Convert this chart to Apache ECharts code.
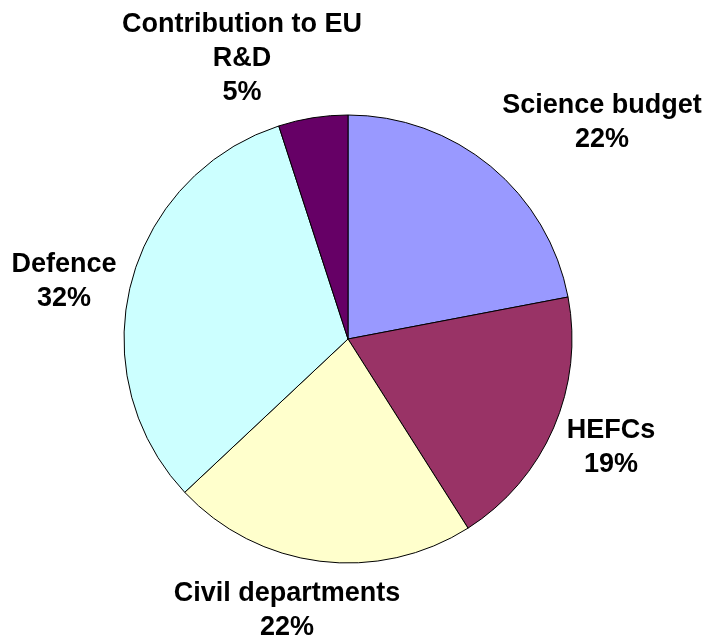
<!DOCTYPE html>
<html>
<head>
<meta charset="utf-8">
<script src="https://cdn.jsdelivr.net/npm/echarts@6/dist/echarts.min.js"></script>
<style>
html,body{margin:0;padding:0;background:#fff;}
#chart{width:706px;height:641px;}
</style>
</head>
<body>
<div id="chart"></div>
<script>
var categories = ["Science budget", "HEFCs", "Civil departments", "Defence", "Contribution to EU\nR&D"];
var values = [22, 19, 22, 32, 5];
var colors = ["#9999FF", "#993366", "#FFFFCC", "#CCFFFF", "#660066"];
// label block centres (x, y) in pixels
var labelPos = [[602, 123], [611, 448], [287, 611], [64, 282], [242, 59]];

var chart = echarts.init(document.getElementById('chart'));
var data = categories.map(function (c, i) {
  return { name: c, value: values[i], itemStyle: { color: colors[i] } };
});
chart.setOption({
  animation: false,
  backgroundColor: '#ffffff',
  series: [{
    type: 'pie',
    center: [348, 339],
    radius: 224,
    startAngle: 90,
    clockwise: true,
    data: data,
    itemStyle: { borderColor: '#000000', borderWidth: 1 },
    label: {
      show: true,
      position: 'outside',
      alignTo: 'none',
      overflow: 'none',
      width: 400,
      formatter: '{b}\n{d}%',
      color: '#000000',
      fontFamily: 'Liberation Sans, Arial, sans-serif',
      fontWeight: 'bold',
      fontSize: 27,
      lineHeight: 34,
      align: 'center'
    },
    labelLine: { show: false },
    labelLayout: function (p) {
      var pos = labelPos[p.dataIndex];
      return { x: pos[0], y: pos[1], align: 'center', verticalAlign: 'middle', hideOverlap: false };
    },
    emphasis: { disabled: true }
  }]
});
</script>
</body>
</html>
